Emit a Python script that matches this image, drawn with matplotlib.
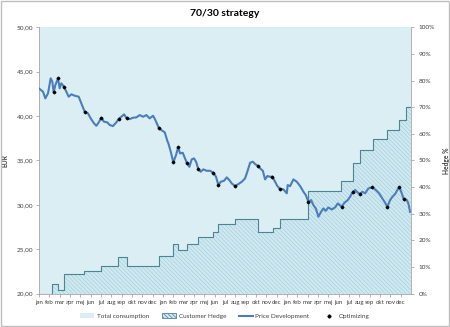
import matplotlib
matplotlib.use("Agg")
import matplotlib.pyplot as plt
from matplotlib.patches import Patch, Rectangle
from matplotlib.lines import Line2D
from matplotlib.ticker import FuncFormatter

plt.rcParams['font.family'] = ['Lato', 'DejaVu Sans']
plt.rcParams['hatch.linewidth'] = 0.5

# ---- data ----
month_names = ["jan", "feb", "mar", "apr", "maj", "jun", "jul", "aug", "sep", "okt", "nov", "dec"]
tick_labels = month_names * 3

price_month = [0.0, 0.07, 0.39, 0.61, 0.87, 1.13, 1.29, 1.42, 1.58, 1.84, 2.0, 2.16, 2.42, 2.64, 2.87,
               3.13, 3.45, 3.84, 4.1, 4.42, 4.74, 5.0, 5.32, 5.55, 5.78, 6.03, 6.29, 6.61, 6.84,
               7.16, 7.48, 7.71, 7.97, 8.23, 8.49, 8.78, 9.1, 9.42, 9.75, 10.07, 10.39, 10.71,
               11.04, 11.26, 11.59, 11.84, 12.17, 12.42, 12.52, 12.75, 13.0, 13.26, 13.46, 13.65,
               13.91, 14.3, 14.55, 14.78, 15.0, 15.2, 15.42, 15.65, 15.9, 16.23, 16.55, 16.87,
               17.13, 17.36, 17.59, 17.91, 18.17, 18.42, 18.65, 18.97, 19.29, 19.62, 19.94, 20.16,
               20.43, 20.69, 20.91, 21.17, 21.4, 21.66, 21.88, 22.1, 22.36, 22.59, 22.85, 23.07,
               23.33, 23.65, 23.98, 24.07, 24.3, 24.62, 24.95, 25.27, 25.59, 25.82, 26.07, 26.33,
               26.55, 26.79, 27.04, 27.3, 27.52, 27.75, 28.0, 28.33, 28.65, 28.92, 29.3, 29.55,
               29.88, 30.1, 30.37, 30.6, 30.86, 31.07, 31.3, 31.56, 31.88, 32.27, 32.6, 32.91,
               33.23, 33.5, 33.72, 33.98, 34.2, 34.46, 34.72, 34.88, 35.11, 35.3, 35.59, 35.75, 35.91]
price_value = [43.1, 43.04, 42.74, 41.99, 42.56, 44.25, 43.87, 42.67, 43.49, 44.25, 43.12, 43.69, 43.3,
               42.74, 42.18, 42.45, 42.29, 42.18, 41.43, 40.48, 40.3, 39.74, 39.18, 38.9, 39.29,
               39.81, 39.36, 39.29, 38.99, 38.87, 39.29, 39.66, 39.92, 40.19, 39.74, 39.66, 39.81,
               39.85, 40.11, 39.92, 40.11, 39.74, 40.03, 39.55, 38.68, 38.42, 38.16, 37.2, 36.92,
               35.98, 34.78, 35.6, 36.47, 35.79, 35.86, 34.74, 34.28, 35.12, 35.23, 34.85, 34.02,
               33.72, 33.99, 33.83, 33.83, 33.61, 33.16, 32.22, 32.59, 32.71, 33.09, 32.78, 32.41,
               32.11, 32.33, 32.59, 32.97, 33.72, 34.74, 34.85, 34.59, 34.4, 34.1, 33.83, 32.86,
               33.24, 33.16, 33.16, 32.59, 32.11, 31.77, 31.74, 31.29, 32.22, 32.1, 32.86, 32.59,
               32.11, 31.47, 31.09, 30.34, 30.53, 29.97, 29.59, 28.65, 29.21, 29.59, 29.32, 29.7,
               29.47, 29.7, 30.15, 29.77, 30.22, 30.53, 30.9, 31.47, 31.66, 31.36, 31.21, 31.47,
               31.29, 31.85, 31.96, 31.66, 31.29, 30.72, 30.22, 29.77, 30.53, 30.9, 31.21, 31.74,
               31.96, 31.29, 30.61, 30.53, 30.15, 29.21]

opt_month = [1.42, 1.84, 2.42, 4.42, 6.03, 7.71, 8.49, 11.59, 13.0, 13.46, 14.3, 15.42, 16.87,
             17.36, 18.97, 21.17, 22.59, 23.33, 26.07, 29.3, 30.37, 31.07, 32.27, 33.72, 34.88, 35.3]
opt_value = [42.67, 44.25, 43.3, 40.48, 39.81, 39.66, 39.74, 38.68, 34.78, 36.47, 34.74, 34.02, 33.61,
             32.22, 32.11, 34.4, 33.16, 31.77, 30.34, 29.77, 31.47, 31.21, 31.96, 29.77, 31.96, 30.61]

hedge_month = [0.0, 1.3, 1.82, 2.42, 4.4, 6.02, 7.69, 8.49, 11.57, 13.0, 13.42, 14.3, 15.42, 16.83,
               17.36, 18.92, 21.15, 22.6, 23.31, 26.08, 29.2, 30.4, 31.07, 32.3, 33.68, 34.82, 35.53, 36.0]
hedge_pct = [0.0, 3.6, 1.3, 7.2, 8.4, 10.4, 13.6, 10.4, 14.0, 18.5, 16.2, 18.5, 21.1, 23.0,
             26.0, 28.0, 23.0, 24.5, 28.0, 38.5, 42.2, 49.2, 53.8, 58.0, 61.6, 65.1, 69.9, 69.9]

total_month = [0.0, 36.0]
total_pct = [100.0, 100.0]

# ---- styling ----
fill_total = '#daeef3'
fill_hedge = '#d0e9f1'
hatch_col = '#a6d1de'
hedge_line = '#4d8595'
price_col = '#4a7ebb'
text_col = '#404040'
axis_col = '#a6a6a6'
hatch_pat = '\\\\\\\\\\\\\\\\'

fig = plt.figure(figsize=(4.5, 3.27), dpi=100)
fig.patches.append(Rectangle((0.002, 0.003), 0.995, 0.993, transform=fig.transFigure,
                             fill=False, edgecolor='#bfbfbf', linewidth=1.0))
ax = fig.add_axes([0.0867, 0.1024, 0.8266, 0.8141])
ax2 = ax.twinx()
ax.set_zorder(ax2.get_zorder() + 1)
ax.patch.set_visible(False)

# right axis: consumption and hedge
ax2.fill_between(total_month, 0, total_pct, color=fill_total, linewidth=0)
ax2.fill_between(hedge_month, 0, hedge_pct, step='post', facecolor=fill_hedge,
                 edgecolor=hatch_col, hatch=hatch_pat, linewidth=0)
ax2.step(hedge_month, hedge_pct, where='post', color=hedge_line, linewidth=0.8)
ax2.set_ylim(0, 100)
ax2.set_yticks(range(0, 101, 10))
ax2.yaxis.set_major_formatter(FuncFormatter(lambda v, p: f"{int(v)}%"))

# left axis: price
ax.plot(price_month, price_value, color=price_col, linewidth=1.5, zorder=3)
ax.plot(opt_month, opt_value, linestyle='none', marker='D', markersize=1.4,
        color='black', zorder=4)
ax.set_ylim(20, 50)
ax.set_yticks(range(20, 51, 5))
ax.yaxis.set_major_formatter(FuncFormatter(lambda v, p: f"{v:.2f}".replace('.', ',')))
ax.set_xlim(0, 36)
ax.set_xticks(range(36))
ax.set_xticklabels(tick_labels)

for a in (ax, ax2):
    for s in a.spines.values():
        s.set_visible(False)
    a.tick_params(colors=axis_col, labelcolor=text_col, labelsize=4.6, length=2.5, width=0.6, pad=1.5)
ax.spines['bottom'].set_visible(True)
ax.spines['bottom'].set_color(axis_col)
ax.spines['bottom'].set_linewidth(0.6)
ax.spines['left'].set_visible(True)
ax.spines['left'].set_color(axis_col)
ax.spines['left'].set_linewidth(0.6)
ax2.spines['right'].set_visible(True)
ax2.spines['right'].set_color(axis_col)
ax2.spines['right'].set_linewidth(0.6)
ax.tick_params(axis='x', labelsize=4.4, pad=2.5)
ax2.tick_params(axis='y', pad=3)

ax.set_ylabel("EUR", fontsize=4.8, fontweight='bold', color=text_col, labelpad=6)
ax2.set_ylabel("Hedge %", fontsize=4.8, fontweight='bold', color=text_col, labelpad=6)

fig.text(0.5, 1 - 14 / 327, "70/30 strategy", ha='center', va='center',
         fontsize=7.5, fontweight='bold', color='black')

handles = [
    Patch(facecolor=fill_total, edgecolor='none', label='Total consumption'),
    Patch(facecolor=fill_hedge, edgecolor=hedge_line, hatch=hatch_pat, linewidth=0.6, label='Customer Hedge'),
    Line2D([], [], color=price_col, linewidth=1.5, label='Price Development'),
    Line2D([], [], color='black', marker='D', markersize=1.6, linestyle='none', label='Optimizing'),
]
leg = fig.legend(handles=handles, loc='center', bbox_to_anchor=(0.5, 1 - 316 / 327), ncol=4,
                 frameon=False, fontsize=4.6, handlelength=2.2, handleheight=0.9,
                 columnspacing=2.0, handletextpad=0.4)
for t in leg.get_texts():
    t.set_color(text_col)

fig.savefig("out.png", dpi=100)
